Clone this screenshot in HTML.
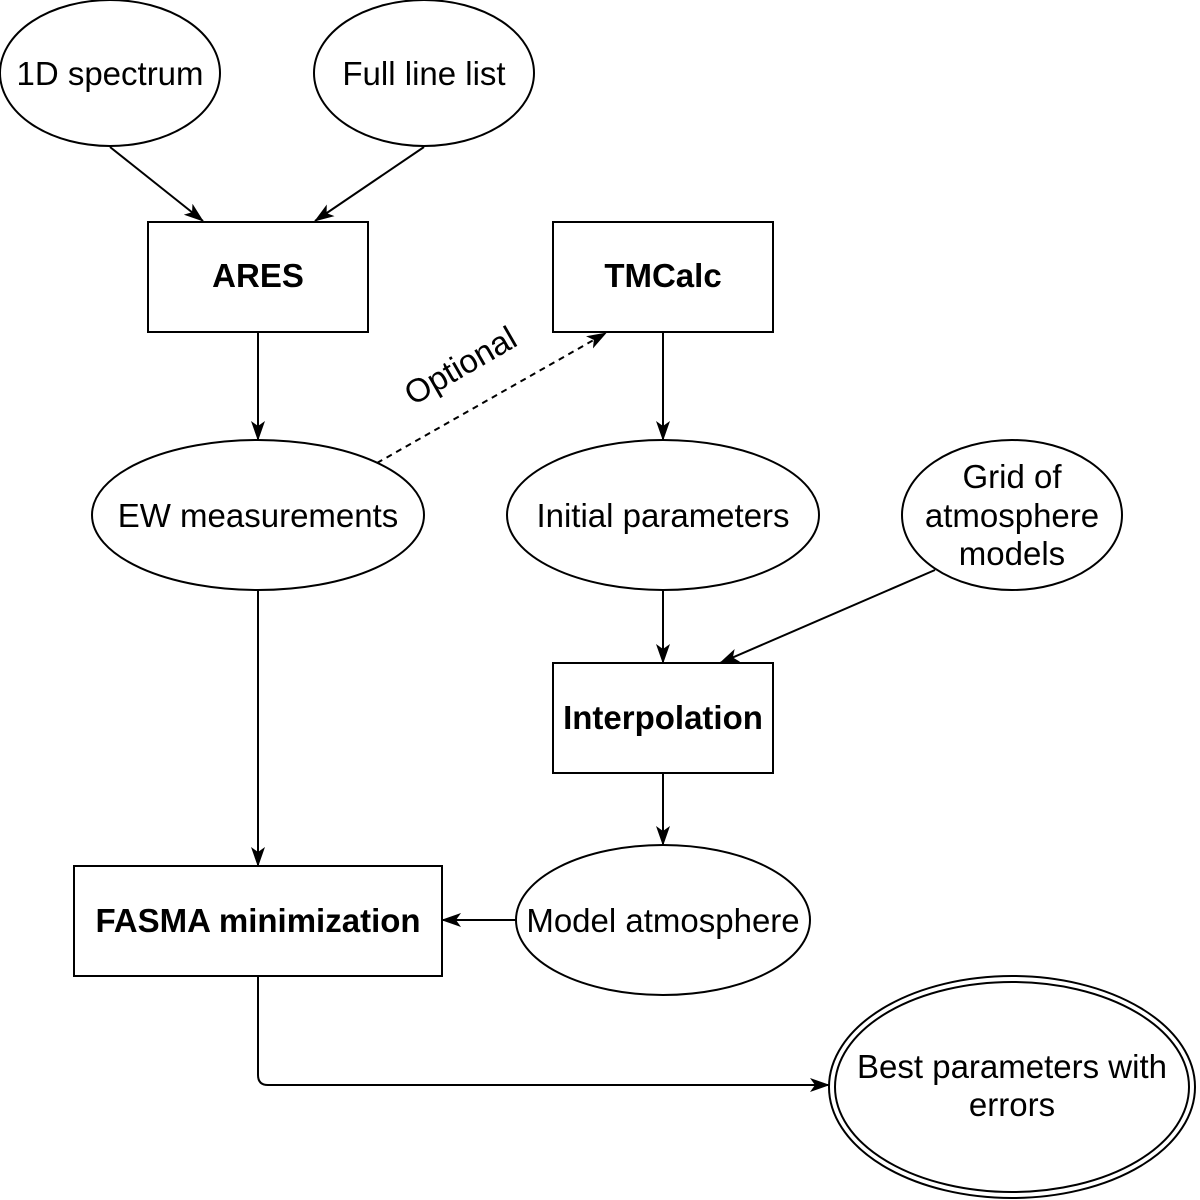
<!DOCTYPE html>
<html><head><meta charset="utf-8"><style>
html,body{margin:0;padding:0;background:#fff;}
svg{display:block;}
text{font-family:"Liberation Sans",Arial,sans-serif;font-size:33px;fill:#000;}
.b{font-weight:bold;}
</style></head><body>
<svg width="1200" height="1200" viewBox="0 0 1200 1200" xmlns="http://www.w3.org/2000/svg">
<defs>
<marker id="a" viewBox="0 0 20 14" refX="19" refY="7" markerWidth="20" markerHeight="14" markerUnits="userSpaceOnUse" orient="auto">
<path d="M0,0 L20,7 L0,14 L5,7 Z" fill="#000"/>
</marker>
</defs>
<g fill="#fff" stroke="#000" stroke-width="2">
<ellipse cx="110" cy="73" rx="110" ry="73"/>
<ellipse cx="424" cy="73" rx="110" ry="73"/>
<rect x="148" y="222" width="220" height="110"/>
<rect x="553" y="222" width="220" height="110"/>
<ellipse cx="258" cy="515" rx="166" ry="75"/>
<ellipse cx="663" cy="515" rx="156" ry="75"/>
<ellipse cx="1012" cy="515" rx="110" ry="75"/>
<rect x="553" y="663" width="220" height="110"/>
<rect x="74" y="866" width="368" height="110"/>
<ellipse cx="663" cy="920" rx="147" ry="75"/>
<ellipse cx="1012" cy="1087" rx="183" ry="111"/>
<ellipse cx="1012" cy="1087" rx="177" ry="105"/>
</g>
<g fill="none" stroke="#000" stroke-width="2">
<line x1="110" y1="147" x2="203" y2="221" marker-end="url(#a)"/>
<line x1="424" y1="147" x2="315" y2="221" marker-end="url(#a)"/>
<line x1="258" y1="332" x2="258" y2="440" marker-end="url(#a)"/>
<line x1="377" y1="463" x2="606" y2="333" stroke-dasharray="6,5" marker-end="url(#a)"/>
<line x1="663" y1="332" x2="663" y2="440" marker-end="url(#a)"/>
<line x1="663" y1="590" x2="663" y2="663" marker-end="url(#a)"/>
<line x1="935" y1="570" x2="720" y2="663" marker-end="url(#a)"/>
<line x1="663" y1="773" x2="663" y2="845" marker-end="url(#a)"/>
<line x1="258" y1="590" x2="258" y2="866" marker-end="url(#a)"/>
<line x1="516" y1="920" x2="442" y2="920" marker-end="url(#a)"/>
<path d="M258,976 L258,1075 Q258,1085 268,1085 L829,1085" marker-end="url(#a)"/>
</g>
<g text-anchor="middle">
<text x="110" y="85">1D spectrum</text>
<text x="424" y="85">Full line list</text>
<text x="258" y="287" class="b">ARES</text>
<text x="663" y="287" class="b">TMCalc</text>
<text x="258" y="527">EW measurements</text>
<text x="663" y="527">Initial parameters</text>
<text x="1012" y="488">Grid of</text>
<text x="1012" y="527">atmosphere</text>
<text x="1012" y="565">models</text>
<text x="663" y="729" class="b">Interpolation</text>
<text x="258" y="932" class="b">FASMA minimization</text>
<text x="663" y="932">Model atmosphere</text>
<text x="1012" y="1078">Best parameters with</text>
<text x="1012" y="1116">errors</text>
<text x="460" y="377" transform="rotate(-30 460 365)">Optional</text>
</g>
</svg>
</body></html>
